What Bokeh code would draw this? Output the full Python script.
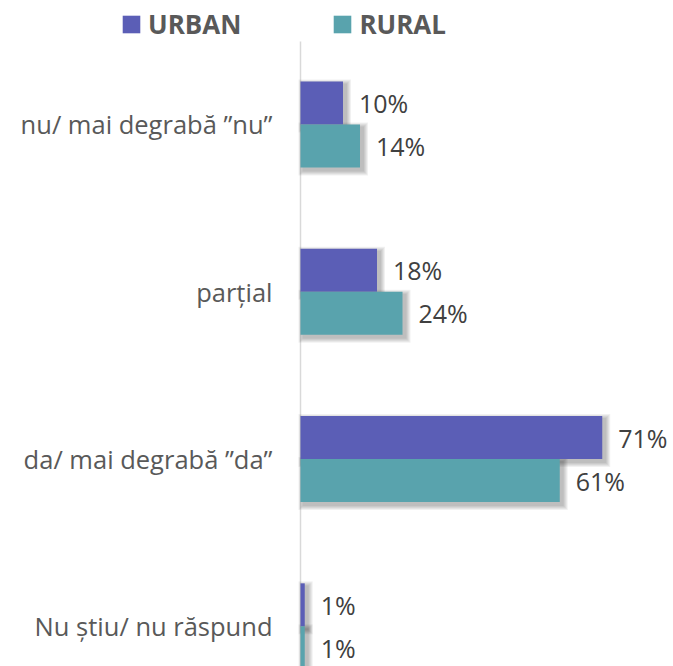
from bokeh.plotting import figure
from bokeh.models import Range1d, ColumnDataSource, Legend, LegendItem
from bokeh.core.properties import value
from bokeh.embed import file_html
from bokeh.resources import INLINE

categories = ["nu/ mai degrabă ”nu”", "parțial", "da/ mai degrabă ”da”", "Nu știu/ nu răspund"]
urban = [10, 18, 71, 1]
rural = [14, 24, 61, 1]
series_names = ["URBAN", "RURAL"]
urban_color = "#5B5EB6"
rural_color = "#59A3AD"

PX_X = 1 / 4.25       # data units per pixel (x)
PX_Y = 1 / 167.3      # data units per pixel (y)
BAR_H = 43 * PX_Y

pos = list(range(len(categories)))
y_u = [k - BAR_H / 2 for k in pos]
y_r = [k + BAR_H / 2 for k in pos]

Y_TOP = -0.496
p = figure(width=673, height=666, output_backend="svg", toolbar_location=None,
           x_range=Range1d(-300 * PX_X, 373 * PX_X),
           y_range=Range1d(3.24, Y_TOP - 41 * PX_Y),
           min_border=0)
p.outline_line_color = None
p.xgrid.visible = False
p.ygrid.visible = False
p.xaxis.visible = False
p.yaxis.visible = False
p.background_fill_color = "white"

# category axis line
p.segment(x0=[0], x1=[0], y0=[Y_TOP], y1=[3.3], line_color="#d9d9d9", line_width=1.5)

# soft shadows
for vals, ys in ((urban, y_u), (rural, y_r)):
    for i in range(1, 6):
        grow = i
        src = ColumnDataSource(dict(
            left=[0 + (3 - grow) * PX_X for _ in vals],
            right=[v + (3 + grow) * PX_X for v in vals],
            top=[y - BAR_H / 2 + (3 - grow) * PX_Y for y in ys],
            bottom=[y + BAR_H / 2 + (3 + grow) * PX_Y for y in ys],
        ))
        p.quad(left="left", right="right", top="top", bottom="bottom", source=src,
               fill_color="black", fill_alpha=0.055, line_color=None)

su = ColumnDataSource(dict(y=y_u, v=urban, lab=[f"{v}%" for v in urban]))
sr = ColumnDataSource(dict(y=y_r, v=rural, lab=[f"{v}%" for v in rural]))
ru = p.hbar(y="y", left=0, right="v", height=BAR_H, source=su, fill_color=urban_color, line_color=None)
rr = p.hbar(y="y", left=0, right="v", height=BAR_H, source=sr, fill_color=rural_color, line_color=None)

for s in (su, sr):
    p.text(x="v", y="y", text="lab", source=s, x_offset=16, text_baseline="middle", text_align="left",
           text_font=value("Open Sans"), text_font_size="25px", text_color="#404040")

# category labels
sc = ColumnDataSource(dict(x=[0] * len(categories), y=pos, t=categories))
p.text(x="x", y="y", text="t", source=sc, x_offset=-28, text_align="right", text_baseline="middle",
       text_font=value("Open Sans"), text_font_size="25.5px", text_color="#595959")

legend = Legend(items=[LegendItem(label=series_names[0], renderers=[ru]),
                       LegendItem(label=series_names[1], renderers=[rr])],
                orientation="horizontal", location=(120, 624),
                glyph_width=22, glyph_height=22, label_standoff=6, spacing=90,
                padding=0, margin=0, border_line_color=None, background_fill_alpha=0,
                label_text_font="Open Sans", label_text_font_style="bold",
                label_text_font_size="26px", label_text_color="#595959")
p.add_layout(legend, "center")

open("out.html", "w").write(file_html(p, INLINE))
